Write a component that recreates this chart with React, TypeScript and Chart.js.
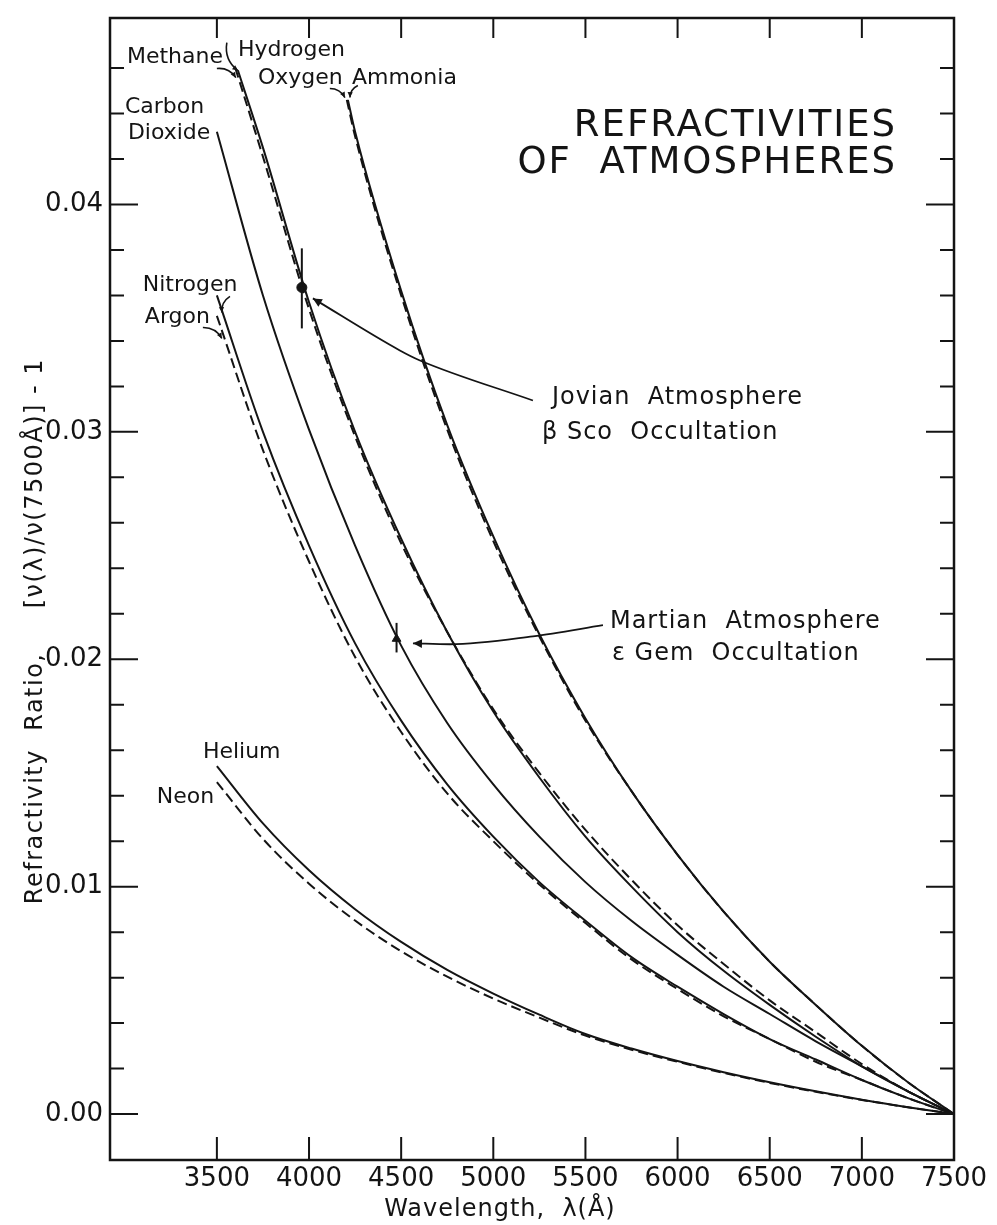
import React, { useEffect, useRef } from 'react';
import { Chart, registerables } from 'chart.js';

Chart.register(...registerables);

// ---------- axes ----------
const xTickValues = [3500, 4000, 4500, 5000, 5500, 6000, 6500, 7000, 7500];
const yTickValues = [0, 0.01, 0.02, 0.03, 0.04];
const yTickLabels = ['0.00', '0.01', '0.02', '0.03', '0.04'];
const yMinorValues = [
  0.002, 0.004, 0.006, 0.008, 0.012, 0.014, 0.016, 0.018, 0.022, 0.024, 0.026, 0.028,
  0.032, 0.034, 0.036, 0.038, 0.042, 0.044, 0.046,
];
const xMin = 2920;
const xMax = 7500;
const yMin = -0.00202;
const yMax = 0.0482;

// ---------- series (wavelength in Å, refractivity ratio - 1) ----------
const wlFull = [3500, 3750, 4000, 4250, 4500, 4750, 5000, 5250, 5500, 5750, 6000, 6250, 6500, 6750, 7000, 7250, 7500];
const helium = [0.0153, 0.01278, 0.01072, 0.00901, 0.00757, 0.00634, 0.0053, 0.00437, 0.00352, 0.00288, 0.00233, 0.00184, 0.0014, 0.001, 0.00063, 0.0003, 0];
const neon = [0.0146, 0.0121, 0.01013, 0.00851, 0.00716, 0.00604, 0.00508, 0.00424, 0.00345, 0.00283, 0.0023, 0.00181, 0.00137, 0.00098, 0.00062, 0.0003, 0];
const nitrogen = [0.036, 0.03, 0.025, 0.0207, 0.0173, 0.0145, 0.0122, 0.0102, 0.0085, 0.0069, 0.0056, 0.0044, 0.0033, 0.0024, 0.0015, 0.0007, 0];
const argon = [0.0351, 0.0292, 0.0243, 0.0201, 0.0168, 0.0141, 0.012, 0.0101, 0.0084, 0.0068, 0.0055, 0.0043, 0.0033, 0.0023, 0.0015, 0.0007, 0];
const carbonDioxide = [0.0432, 0.036, 0.0301, 0.025, 0.0206, 0.0172, 0.0145, 0.0122, 0.0102, 0.0085, 0.007, 0.0056, 0.0044, 0.0032, 0.0021, 0.001, 0];

const wlHydrogen = [3614, 3750, 4000, 4250, 4500, 4750, 5000, 5250, 5500, 5750, 6000, 6250, 6500, 6750, 7000, 7250, 7500];
const hydrogen = [0.0459, 0.0425, 0.0357, 0.03, 0.0253, 0.0212, 0.0177, 0.0148, 0.0122, 0.01, 0.008, 0.0063, 0.0048, 0.0034, 0.0021, 0.001, 0];
const wlMethane = [3600, 3750, 4000, 4250, 4500, 4750, 5000, 5250, 5500, 5750, 6000, 6250, 6500, 6750, 7000, 7250, 7500];
const methane = [0.046, 0.0421, 0.0354, 0.0298, 0.0251, 0.0212, 0.0178, 0.015, 0.0125, 0.0103, 0.0083, 0.0066, 0.005, 0.0036, 0.0022, 0.001, 0];

const wlAmmonia = [4211, 4250, 4500, 4750, 5000, 5250, 5500, 5750, 6000, 6250, 6500, 6750, 7000, 7250, 7500];
const ammonia = [0.0446, 0.0432, 0.0362, 0.0303, 0.0254, 0.0211, 0.0174, 0.0142, 0.0114, 0.0089, 0.0067, 0.0048, 0.003, 0.0014, 0];
const wlOxygen = [4205, 4250, 4500, 4750, 5000, 5250, 5500, 5750, 6000, 6250, 6500, 6750, 7000, 7250, 7500];
const oxygen = [0.0446, 0.043, 0.036, 0.0301, 0.0252, 0.021, 0.0173, 0.0142, 0.0114, 0.0089, 0.0067, 0.0048, 0.003, 0.0014, 0];

// ---------- occultation measurements ----------
const jovianWl = [3961];
const jovianVal = [0.03635];
const jovianLow = [0.03455];
const jovianHigh = [0.03807];
const martianWl = [4475];
const martianVal = [0.0209];
const martianLow = [0.0203];
const martianHigh = [0.0216];

// pointer lines from the measurements to their captions
const jovianPointerWl = [4021, 4493, 4602, 5215];
const jovianPointerVal = [0.03587, 0.03358, 0.03314, 0.03138];
const martianPointerWl = [4564, 4765, 5215, 5595];
const martianPointerVal = [0.0207, 0.02066, 0.02101, 0.0215];

// ---------- text annotations (anchored in data units) ----------
const gasLabels = [
  { text: 'Methane', wl: 3012, val: 0.04646 },
  { text: 'Hydrogen', wl: 3614, val: 0.04677 },
  { text: 'Oxygen', wl: 3723, val: 0.04554 },
  { text: 'Ammonia', wl: 4233, val: 0.04554 },
  { text: 'Carbon', wl: 3001, val: 0.04426 },
  { text: 'Dioxide', wl: 3017, val: 0.04312 },
  { text: 'Nitrogen', wl: 3098, val: 0.03644 },
  { text: 'Argon', wl: 3109, val: 0.03503 },
  { text: 'Helium', wl: 3424, val: 0.01591 },
  { text: 'Neon', wl: 3174, val: 0.01393 },
];
const obsLabels = [
  { text: 'Jovian  Atmosphere', wl: 5318, val: 0.03152 },
  { text: 'β Sco  Occultation', wl: 5264, val: 0.02998 },
  { text: 'Martian  Atmosphere', wl: 5633, val: 0.02163 },
  { text: 'ε Gem  Occultation', wl: 5644, val: 0.02026 },
];
const titleLines = [
  { text: 'REFRACTIVITIES', wl: 7191, val: 0.04343 },
  { text: 'OF  ATMOSPHERES', wl: 7191, val: 0.0418 },
];
const hooks = [
  { from: [3500, 0.04598], to: [3603, 0.04558], bend: -0.3 },
  { from: [3554, 0.04712], to: [3614, 0.04589], bend: 0.3 },
  { from: [4113, 0.0451], to: [4195, 0.0447], bend: -0.3 },
  { from: [4265, 0.04523], to: [4222, 0.0447], bend: 0.3 },
  { from: [3571, 0.03596], to: [3527, 0.03525], bend: 0.3 },
  { from: [3424, 0.03459], to: [3527, 0.03411], bend: -0.3 },
];
const xTitle = { text: 'Wavelength,  λ(Å)', wl: 5036 };
const yTitleParts = [
  { text: 'Refractivity  Ratio,', val: 0.00923 },
  { text: '[ν(λ)/ν(7500Å)] - 1', val: 0.02224 },
];

const INK = '#141414';
const FONT = '"DejaVu Sans", "Liberation Sans", sans-serif';

const pts = (xs: number[], ys: number[]) => xs.map((x, i) => ({ x, y: ys[i] }));

function curveDs(label: string, data: any[], dashed: boolean) {
  return {
    label,
    data,
    showLine: true,
    borderColor: INK,
    backgroundColor: INK,
    borderWidth: 2,
    borderDash: dashed ? [10, 5] : [],
    pointRadius: 0,
    fill: false,
    cubicInterpolationMode: 'monotone',
  };
}

function drawArrowHead(ctx: CanvasRenderingContext2D, x: number, y: number, fromX: number, fromY: number, size: number) {
  const ang = Math.atan2(y - fromY, x - fromX);
  ctx.beginPath();
  ctx.moveTo(x, y);
  ctx.lineTo(x - size * Math.cos(ang - 0.45), y - size * Math.sin(ang - 0.45));
  ctx.lineTo(x - size * Math.cos(ang + 0.45), y - size * Math.sin(ang + 0.45));
  ctx.closePath();
  ctx.fill();
}

const decorPlugin = {
  id: 'decor',
  afterDatasetsDraw(chart: any) {
    const { ctx, chartArea: a, scales } = chart;
    const xs = scales.x;
    const ys = scales.y;
    const px = (v: number) => xs.getPixelForValue(v);
    const py = (v: number) => ys.getPixelForValue(v);
    ctx.save();
    ctx.strokeStyle = INK;
    ctx.fillStyle = INK;
    ctx.setLineDash([]);

    // frame
    ctx.lineWidth = 2.5;
    ctx.strokeRect(a.left, a.top, a.right - a.left, a.bottom - a.top);

    // inward tick marks on all four sides
    ctx.lineWidth = 2;
    ctx.beginPath();
    yTickValues.forEach((v) => {
      const y = py(v);
      ctx.moveTo(a.left, y);
      ctx.lineTo(a.left + 28, y);
      ctx.moveTo(a.right, y);
      ctx.lineTo(a.right - 28, y);
    });
    yMinorValues.forEach((v) => {
      const y = py(v);
      ctx.moveTo(a.left, y);
      ctx.lineTo(a.left + 14, y);
      ctx.moveTo(a.right, y);
      ctx.lineTo(a.right - 14, y);
    });
    xTickValues
      .filter((v) => v < xMax)
      .forEach((v) => {
        const x = px(v);
        ctx.moveTo(x, a.bottom);
        ctx.lineTo(x, a.bottom - 23);
        ctx.moveTo(x, a.top);
        ctx.lineTo(x, a.top + 20);
      });
    ctx.stroke();

    // label hooks
    ctx.lineWidth = 1.6;
    hooks.forEach((h) => {
      const x1 = px(h.from[0]);
      const y1 = py(h.from[1]);
      const x2 = px(h.to[0]);
      const y2 = py(h.to[1]);
      const mx = (x1 + x2) / 2 - (y2 - y1) * h.bend;
      const my = (y1 + y2) / 2 + (x2 - x1) * h.bend;
      ctx.beginPath();
      ctx.moveTo(x1, y1);
      ctx.quadraticCurveTo(mx, my, x2, y2);
      ctx.stroke();
      drawArrowHead(ctx, x2, y2, mx, my, 6);
    });

    // pointer arrow heads at the measurements
    drawArrowHead(ctx, px(jovianPointerWl[0]), py(jovianPointerVal[0]), px(jovianPointerWl[1]), py(jovianPointerVal[1]), 10);
    drawArrowHead(ctx, px(martianPointerWl[0]), py(martianPointerVal[0]), px(martianPointerWl[1]), py(martianPointerVal[1]), 10);

    // texts
    ctx.textBaseline = 'middle';
    ctx.textAlign = 'left';
    ctx.font = `22px ${FONT}`;
    (ctx as any).letterSpacing = '0px';
    gasLabels.forEach((l) => ctx.fillText(l.text, px(l.wl), py(l.val)));

    ctx.font = `24px ${FONT}`;
    (ctx as any).letterSpacing = '1px';
    obsLabels.forEach((l) => ctx.fillText(l.text, px(l.wl), py(l.val)));

    ctx.font = `37px ${FONT}`;
    (ctx as any).letterSpacing = '2px';
    ctx.textAlign = 'right';
    titleLines.forEach((l) => ctx.fillText(l.text, px(l.wl), py(l.val)));

    // axis titles
    ctx.font = `24px ${FONT}`;
    (ctx as any).letterSpacing = '1px';
    ctx.textAlign = 'center';
    ctx.fillText(xTitle.text, px(xTitle.wl), a.bottom + 50);

    (ctx as any).letterSpacing = '1.5px';
    ctx.textAlign = 'left';
    yTitleParts.forEach((p) => {
      ctx.save();
      ctx.translate(a.left - 74, py(p.val));
      ctx.rotate(-Math.PI / 2);
      ctx.fillText(p.text, 0, 0);
      ctx.restore();
    });

    ctx.restore();
  },
};

export default function App() {
  const canvasRef = useRef<HTMLCanvasElement | null>(null);

  useEffect(() => {
    const canvas = canvasRef.current;
    if (!canvas) return;

    const datasets: any[] = [
      curveDs('Helium', pts(wlFull, helium), false),
      curveDs('Neon', pts(wlFull, neon), true),
      curveDs('Nitrogen', pts(wlFull, nitrogen), false),
      curveDs('Argon', pts(wlFull, argon), true),
      curveDs('Carbon Dioxide', pts(wlFull, carbonDioxide), false),
      curveDs('Hydrogen', pts(wlHydrogen, hydrogen), false),
      curveDs('Methane', pts(wlMethane, methane), true),
      curveDs('Ammonia', pts(wlAmmonia, ammonia), false),
      curveDs('Oxygen', pts(wlOxygen, oxygen), true),
      {
        label: 'Jovian error',
        data: [
          { x: jovianWl[0], y: jovianLow[0] },
          { x: jovianWl[0], y: jovianHigh[0] },
        ],
        showLine: true,
        borderColor: INK,
        borderWidth: 2,
        pointRadius: 0,
      },
      {
        label: 'Martian error',
        data: [
          { x: martianWl[0], y: martianLow[0] },
          { x: martianWl[0], y: martianHigh[0] },
        ],
        showLine: true,
        borderColor: INK,
        borderWidth: 2,
        pointRadius: 0,
      },
      {
        label: 'Jovian point',
        data: pts(jovianWl, jovianVal),
        pointRadius: 5,
        pointStyle: 'circle',
        backgroundColor: INK,
        borderColor: INK,
      },
      {
        label: 'Martian point',
        data: pts(martianWl, martianVal),
        pointRadius: 5,
        pointStyle: 'triangle',
        backgroundColor: INK,
        borderColor: INK,
      },
      {
        label: 'Jovian pointer',
        data: pts(jovianPointerWl, jovianPointerVal),
        showLine: true,
        borderColor: INK,
        borderWidth: 1.8,
        pointRadius: 0,
        cubicInterpolationMode: 'monotone',
      },
      {
        label: 'Martian pointer',
        data: pts(martianPointerWl, martianPointerVal),
        showLine: true,
        borderColor: INK,
        borderWidth: 1.8,
        pointRadius: 0,
        cubicInterpolationMode: 'monotone',
      },
    ];

    const zeroPad = (scale: any) => {
      scale.paddingLeft = 0;
      scale.paddingRight = 0;
      scale.paddingTop = 0;
      scale.paddingBottom = 0;
    };

    const chart = new Chart(canvas, {
      type: 'scatter',
      data: { datasets },
      options: {
        animation: false,
        responsive: false,
        events: [],
        layout: { padding: { left: 0, top: 18, right: 43, bottom: 0 } },
        plugins: {
          legend: { display: false },
          tooltip: { enabled: false },
          title: { display: false },
        },
        scales: {
          x: {
            type: 'linear',
            min: xMin,
            max: xMax,
            grid: { display: false, drawTicks: false },
            border: { display: false },
            afterBuildTicks: (scale: any) => {
              scale.ticks = xTickValues.map((v) => ({ value: v }));
            },
            afterFit: (scale: any) => {
              scale.height = 65;
              zeroPad(scale);
            },
            ticks: {
              autoSkip: false,
              maxRotation: 0,
              padding: 4,
              color: INK,
              font: { family: FONT, size: 26 },
              callback: (v: any) => String(v),
            },
          },
          y: {
            type: 'linear',
            min: yMin,
            max: yMax,
            grid: { display: false, drawTicks: false },
            border: { display: false },
            afterBuildTicks: (scale: any) => {
              scale.ticks = yTickValues.map((v) => ({ value: v }));
            },
            afterFit: (scale: any) => {
              scale.width = 110;
              zeroPad(scale);
            },
            ticks: {
              padding: 7,
              color: INK,
              font: { family: FONT, size: 26 },
              callback: (v: any) => {
                const i = yTickValues.findIndex((t) => Math.abs(t - v) < 1e-9);
                return i >= 0 ? yTickLabels[i] : '';
              },
            },
          },
        },
      },
      plugins: [decorPlugin],
    } as any);

    return () => chart.destroy();
  }, []);

  return (
    <div style={{ position: 'absolute', left: 0, top: 0, width: 997, height: 1225, background: '#fff' }}>
      <canvas ref={canvasRef} width={997} height={1225} style={{ width: 997, height: 1225, display: 'block' }} />
    </div>
  );
}
